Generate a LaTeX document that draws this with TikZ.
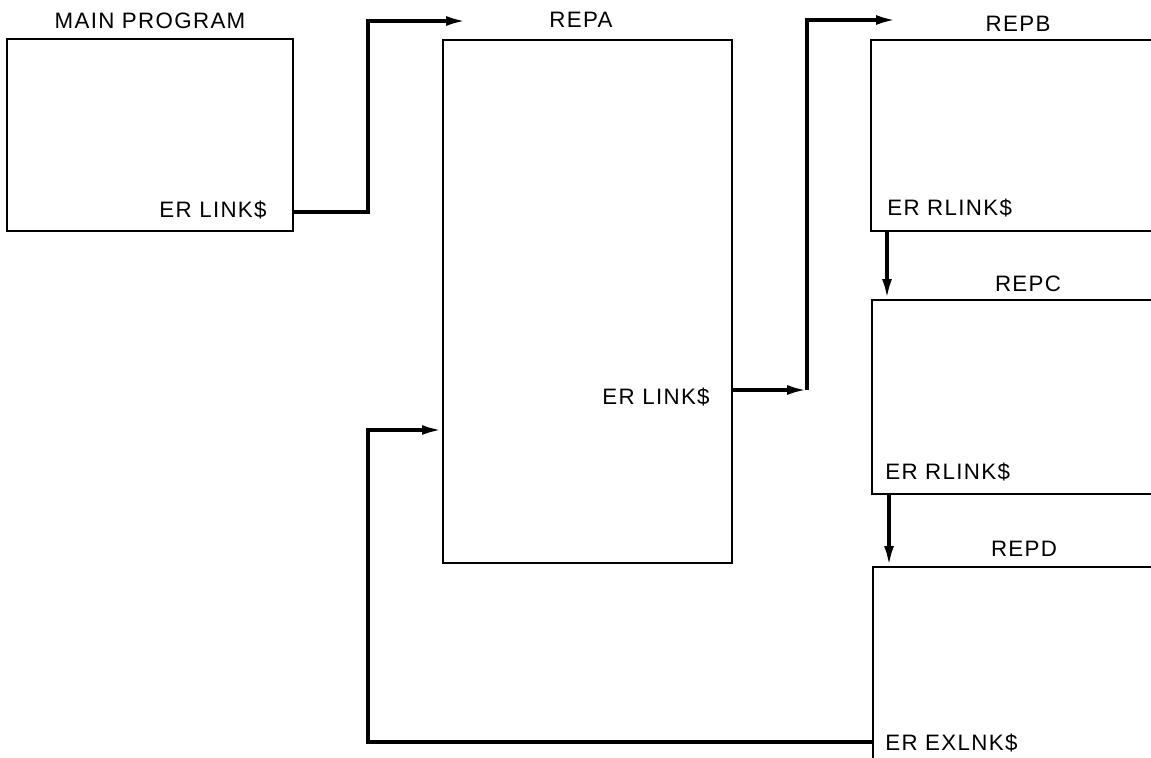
\documentclass[tikz,border=0pt]{standalone}
\usepackage{fontspec}
\setmainfont{Liberation Sans}[LetterSpace=6]
\usetikzlibrary{arrows.meta,positioning,calc}

\begin{document}
\begin{tikzpicture}[
    x=0.02cm, y=-0.02cm,
    >={Latex[length=4mm,width=2mm]},
    box/.style={
      rectangle,
      draw=black,
      line width=1.1pt,
      anchor=north west,
      inner sep=0pt
    },
    title/.style={font=\fontsize{12.7}{15}\selectfont, inner sep=0pt, anchor=base},
    lnk/.style={font=\fontsize{12.7}{15}\selectfont, inner sep=0pt},
    link/.style={draw=black, line width=2pt}
  ]
  \useasboundingbox (0,0) rectangle (1151,757);
  \clip (0,0) rectangle (1151,757);

  % program boxes (the right-hand ones run off the page)
  \node[box, minimum width=5.72cm, minimum height=3.84cm] (main) at (6,38) {};
  \node[box, minimum width=5.78cm, minimum height=10.46cm] (repa) at (442,39) {};
  \node[box, minimum width=8cm, minimum height=3.82cm] (repb) at (870,39) {};
  \node[box, minimum width=8cm, minimum height=3.88cm] (repc) at (871,299) {};
  \node[box, minimum width=8cm, minimum height=6cm] (repd) at (872,566) {};

  \node[title] (mainname) at (150,29) {MAIN PROGRAM};
  \node[title] (reparname) at (581,28) {REPA};
  \node[title] (repbname) at (1018,32) {REPB};
  \node[title] (repcname) at (1028,291) {REPC};
  \node[title] (repdname) at (1024,556) {REPD};

  \node[lnk, anchor=base east] (mainlnk) at (267,217) {ER LINK\$};
  \node[lnk, anchor=base east] (repalnk) at (710,404) {ER LINK\$};
  \node[lnk, anchor=base west] (repblnk) at (887,215) {ER RLINK\$};
  \node[lnk, anchor=base west] (repclnk) at (885,479) {ER RLINK\$};
  \node[lnk, anchor=base west] (exlnk) at (885,750) {ER EXLNK\$};

  % connectors
  \coordinate (c1) at (368,212);
  \coordinate (repatop) at (466,21);
  \draw[link, ->] (main.east |- c1) -- (c1) |- (repatop);

  \coordinate (c2) at (807,390);
  \coordinate (repbtop) at (896,20);
  \draw[link, ->] (repa.east |- c2) -- (c2);
  \draw[link, ->] (c2) |- (repbtop);

  \draw[link, ->] ([xshift=0.34cm]repb.south west) -- ([xshift=0.34cm]repb.south west |- repc.north);
  \draw[link, ->] ([xshift=0.36cm]repc.south west) -- ([xshift=0.36cm]repc.south west |- repd.north);

  \coordinate (c5a) at (368,742);
  \coordinate (c5) at (368,430);
  \draw[link, ->] (repd.west |- c5a) -| (c5) -- (repa.west |- c5);

\end{tikzpicture}
\end{document}
